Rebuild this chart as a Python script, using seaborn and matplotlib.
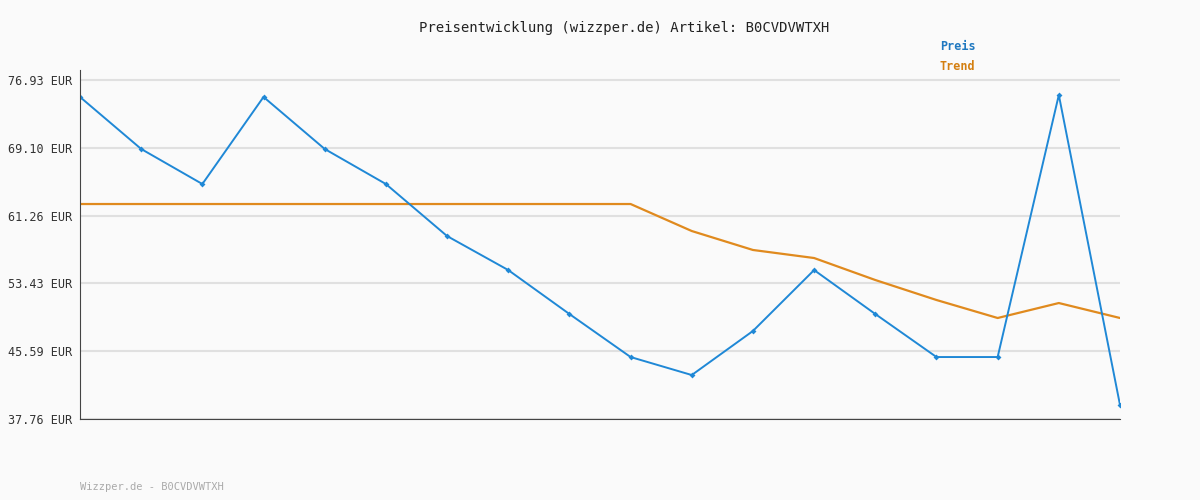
import matplotlib
matplotlib.use("Agg")
import matplotlib.pyplot as plt
import seaborn as sns
import pandas as pd

preis = [74.97, 68.96, 64.91, 74.97, 68.96, 64.91, 58.90, 54.97, 49.89, 44.92, 42.84, 47.93, 54.97, 49.89, 44.92, 44.92, 75.20, 39.38]
trend = [62.60]*10 + [59.48, 57.29, 56.36, 53.82, 51.51, 49.43, 51.16, 49.43]
ticks = [37.76, 45.59, 53.43, 61.26, 69.10, 76.93]
idx = list(range(len(preis)))
df = pd.DataFrame({"i": idx, "Preis": preis, "Trend": trend})

sns.set_style("white")
plt.rcParams['font.family'] = ['DejaVu Sans Mono']
bg = "#fafafa"
fig = plt.figure(figsize=(12, 5), dpi=100, facecolor=bg)
ax = fig.add_axes([80/1200, 1-419/500, 1040/1200, 339/500 + 10/500], facecolor=bg)
top = 76.93 + 10*0.11555
sns.lineplot(data=df, x="i", y="Trend", ax=ax, color="#e08a1e", lw=1.6)
sns.lineplot(data=df, x="i", y="Preis", ax=ax, color="#1f88d6", lw=1.4, marker="D", markersize=3, markeredgewidth=0)
ax.set_xlim(0, len(preis)-1)
ax.set_ylim(37.76, top)
ax.set_yticks(ticks)
ax.set_yticklabels([f"{t:.2f} EUR" for t in ticks], fontsize=8.5, color="#333")
ax.set_xticks([])
ax.set_xlabel(""); ax.set_ylabel("")
ax.grid(axis="y", color="#e0e0e0", lw=1.5)
ax.set_axisbelow(True)
for s in ["top", "right"]:
    ax.spines[s].set_visible(False)
ax.spines["left"].set_color("#444"); ax.spines["bottom"].set_color("#444")
ax.tick_params(axis="y", length=4, color="#444", pad=2)
fig.text(0.52, 1-28/500, "Preisentwicklung (wizzper.de) Artikel: B0CVDVWTXH", ha="center", va="center", fontsize=10, color="#222")
fig.text(940/1200, 1-47/500, "Preis", color="#1f78c0", fontsize=8.5, weight="bold", va="center")
fig.text(940/1200, 1-67/500, "Trend", color="#d47f10", fontsize=8.5, weight="bold", va="center")
fig.text(80/1200, 1-487/500, "Wizzper.de - B0CVDVWTXH", color="#aaa", fontsize=7.5, va="center")
fig.savefig("out.png", facecolor=bg)
